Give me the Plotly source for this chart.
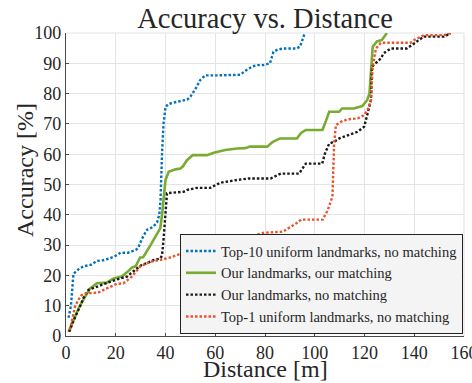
import plotly.graph_objects as go

# Localization accuracy as a function of allowed distance error
top10_x = [1, 2, 3, 5, 7, 10, 12.5, 15, 17.5, 20, 22, 25, 28, 29, 30.5, 32.5, 35, 36.6, 37.5, 38,
           38.6, 39.2, 40, 41, 43, 46, 48.7, 50, 52, 54, 56, 60, 65, 70, 72.6, 75, 77, 79.3, 82,
           83.4, 85, 87.4, 92.7, 94.1, 96]
top10_y = [6, 10, 20.5, 22, 23, 23.5, 24.8, 25, 25.6, 26.5, 27.5, 27.5, 28.4, 29, 32, 35, 36, 37.5,
           40, 45, 60, 70, 75.5, 76.5, 77, 77.5, 78, 79, 81.5, 84.5, 86, 86, 86, 86.2, 87.8, 89,
           89.4, 89.4, 90, 93.8, 94.5, 94.9, 94.9, 95.5, 100]

ours_x = [1, 3, 5, 7, 9.7, 12.4, 16.4, 19.1, 22.4, 24.5, 26.5, 28, 29.8, 31, 32.5, 34, 35.9, 37.9,
          38.6, 39.3, 40, 41.3, 44, 46, 47, 48.7, 51, 52, 56.7, 59.4, 64, 68.8, 72, 74, 80.9, 83,
          86, 92.8, 94.5, 96.4, 103.1, 104.5, 105.8, 109.8, 111, 115.7, 119.1, 121.1, 122, 123.3,
          125, 127, 128, 129]
ours_y = [1.4, 5, 9, 12, 15.7, 17.4, 17.6, 19, 19.6, 21, 22.6, 23, 25.9, 26, 27.8, 30, 32.7, 35.5,
          40, 47, 51.5, 54.2, 55, 55.3, 56, 58.1, 59.7, 59.7, 59.7, 60.5, 61.4, 61.9, 62, 62.5,
          62.5, 64, 65.2, 65.2, 67, 68, 68, 71, 74, 74, 75.1, 75.1, 75.9, 77.9, 80.1, 95.5, 97.2,
          97.7, 99, 100]

ours_nm_x = [1.3, 3, 5.6, 7, 9, 13.7, 17.7, 21, 24.5, 26.5, 28.5, 30.5, 32.5, 35, 37.9, 38.6, 39.2,
             40, 40.6, 41.3, 44.6, 47.3, 48.7, 52.7, 58, 62.1, 68.8, 73.5, 82.3, 86.3, 93.7, 95,
             96.4, 103, 104, 105.8, 107.8, 109.8, 113, 117.2, 119.9, 121.2, 122.6, 123, 124.5,
             126.6, 127.7, 130.6, 131.7, 137, 139, 141, 143.8, 151.9, 154.6]
ours_nm_y = [1.4, 5, 9.7, 12.5, 15.2, 16.8, 17.9, 18.8, 19.6, 21, 22.3, 23.5, 24, 25, 25.6, 26.5,
             31.7, 40, 47.1, 47.2, 47.3, 47.6, 48.2, 48.9, 48.9, 50.6, 51.5, 52, 52, 53.6, 53.6,
             55, 56.9, 56.9, 60, 63.5, 64.1, 65.2, 66.2, 67.4, 69.1, 73.5, 77.9, 88.9, 90, 91.6,
             93.3, 94.9, 94.9, 94.9, 96, 97.1, 98.8, 98.8, 99.9]

top1_x = [1.6, 2.5, 3.6, 5, 6.3, 8.3, 12.9, 16.4, 20.4, 23.1, 26.5, 29.8, 33.9, 37.9, 41.9, 47.3,
          50, 54, 59.4, 67.5, 76.3, 79.7, 87.1, 92.4, 94.5, 103.2, 105.2, 107.1, 107.5, 107.8,
          108.5, 110.5, 113.2, 117.2, 119.9, 121.5, 122.6, 123.3, 124.6, 126.6, 138.5, 140, 144,
          152.1, 154.8]
top1_y = [2, 6, 9.7, 12, 13.5, 14.1, 14.3, 15.7, 17.2, 17.4, 19.6, 22.9, 24.5, 25.1, 25.9, 27.5,
          28.4, 31.1, 33, 33, 33.3, 34.1, 34.4, 37.1, 38.4, 38.4, 41.5, 46, 55, 63.5, 69.6, 70.7,
          71.5, 71.8, 72.9, 75.1, 77.9, 88.9, 94.9, 96.8, 96.8, 97.7, 99.3, 99.3, 100]

names = ["Top-10 uniform landmarks, no matching",
         "Our landmarks, our matching",
         "Our landmarks, no matching",
         "Top-1 uniform landmarks, no matching"]
colors = ["#0072BD", "#77AC30", "#1a1a1a", "#E8532A"]
dashes = ["2.5px,2px", "solid", "2.5px,2px", "2.5px,2px"]

FONT = "Liberation Serif"
TXT = "#262626"
GRID = "#e4e4e4"

fig = go.Figure()
series = [(top10_x, top10_y), (ours_x, ours_y), (ours_nm_x, ours_nm_y), (top1_x, top1_y)]
for (xs, ys), name, c, d in zip(series, names, colors, dashes):
    fig.add_trace(go.Scatter(x=xs, y=ys, mode="lines", name=name,
                             line=dict(color=c, width=2.6 if d == "solid" else 2.4, dash=d)))

axis_common = dict(showgrid=True, gridcolor=GRID, gridwidth=1.2, zeroline=False,
                   showline=True, linecolor="#4a4a4a", linewidth=1.3,
                   ticks="inside", ticklen=3, tickcolor="#4a4a4a",
                   ticklabeloverflow="allow", automargin=False,
                   tickfont=dict(family=FONT, size=18, color=TXT))

fig.update_layout(
    width=472, height=383,
    margin=dict(l=66, r=8, t=33, b=47, autoexpand=False),
    paper_bgcolor="white", plot_bgcolor="white",
    title=dict(text="Accuracy vs. Distance", x=0.5, xref="paper", xanchor="center",
               y=0.953, yref="container", yanchor="middle",
               font=dict(family=FONT, size=28.5, color=TXT)),
    xaxis=dict(range=[0, 160], dtick=20, **axis_common),
    yaxis=dict(range=[0, 100], dtick=10, **axis_common),
    legend=dict(x=0.9975, y=0.0066, xanchor="right", yanchor="bottom",
                bgcolor="#f4f4f4", bordercolor="#222", borderwidth=1,
                font=dict(family=FONT, size=14.5, color=TXT), tracegroupgap=0),
    # light frame on the top and right edges of the axes box
    shapes=[
        dict(type="line", xref="paper", yref="paper", x0=1, x1=1, y0=0, y1=1,
             line=dict(color=GRID, width=1.2), layer="below"),
        dict(type="line", xref="paper", yref="paper", x0=0, x1=1, y0=1, y1=1,
             line=dict(color=GRID, width=1.2), layer="below"),
    ],
    annotations=[
        dict(text="Distance [m]", x=0.5, y=-0.11, xref="paper", yref="paper",
             xanchor="center", yanchor="middle", showarrow=False,
             font=dict(family=FONT, size=24, color=TXT)),
        dict(text="Accuracy [%]", x=-0.103, y=0.548, xref="paper", yref="paper",
             xanchor="center", yanchor="middle", showarrow=False, textangle=-90,
             font=dict(family=FONT, size=24, color=TXT)),
    ],
    showlegend=True,
)

fig.write_html("out.html")
